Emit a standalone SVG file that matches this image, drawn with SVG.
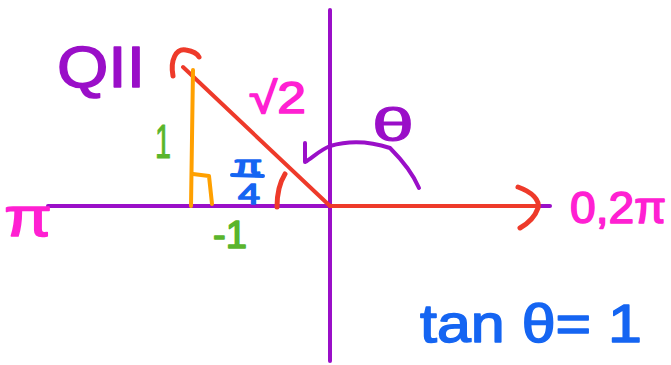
<svg xmlns="http://www.w3.org/2000/svg" width="671" height="365" viewBox="0 0 671 365">
<style>
.s{fill:none;stroke-linecap:round;stroke-linejoin:round}
.p{stroke:#9a0fc8}
.r{stroke:#ee3a2a}
.t{font-family:"Liberation Sans",Arial,sans-serif;stroke-linejoin:round}
</style>
<rect width="671" height="365" fill="#fff"/>
<g id="axes">
<line class="s p" x1="330" y1="10" x2="330" y2="361" stroke-width="4"/>
<line class="s p" x1="48" y1="206" x2="550" y2="206" stroke-width="4"/>
</g>
<g id="connectors">
<line class="s r" x1="183" y1="67" x2="330" y2="206" stroke-width="4"/>
<line class="s r" x1="330" y1="206" x2="536" y2="206" stroke-width="4"/>
<path class="s r" d="M173,76 C170,60 176,48 186,50 C192,51 197,53 199,57" stroke-width="5"/>
<path class="s r" d="M518,187 C532,192 540,200 538,208 C535,217 527,224 520,228" stroke-width="5"/>
<path class="s r" d="M285,174 C280,182 277,195 277,207" stroke-width="5"/>
<line class="s" stroke="#ffa000" x1="193" y1="70" x2="191" y2="206" stroke-width="4"/>
<path class="s" stroke="#ffa000" d="M193,174 L209,176 L212,204" stroke-width="4"/>
<path class="s p" d="M305,143 L305,162 C312,158 320,150 330,146 C350,140 372,142 390,148 C402,160 413,174 419,188" stroke-width="4"/>
<line class="s" stroke="#1565f2" x1="232" y1="175" x2="263" y2="176" stroke-width="4"/>
</g>
<g id="labels">
<text class="t" x="57" y="87" font-size="58" fill="#9a0fc8" stroke="#9a0fc8" stroke-width="1.5" textLength="88" lengthAdjust="spacingAndGlyphs">QII</text>
<text class="t" x="249" y="113" font-size="44" fill="#ff20d2" stroke="#ff20d2" stroke-width="1.5" textLength="57" lengthAdjust="spacingAndGlyphs">√2</text>
<text class="t" x="372" y="141" font-size="46" fill="#9a0fc8" stroke="#9a0fc8" stroke-width="1" textLength="42" lengthAdjust="spacingAndGlyphs">θ</text>
<text class="t" x="4" y="236" font-size="56" fill="#ff20d2" stroke="#ff20d2" stroke-width="1.5" textLength="48" lengthAdjust="spacingAndGlyphs">π</text>
<text class="t" x="570" y="223" font-size="44" fill="#ff20d2" stroke="#ff20d2" stroke-width="1.5" textLength="96" lengthAdjust="spacingAndGlyphs">0,2π</text>
<text class="t" x="155" y="158" font-size="48" fill="#5ab52c" stroke="#5ab52c" stroke-width="1" textLength="16" lengthAdjust="spacingAndGlyphs">1</text>
<text class="t" x="213" y="248" font-size="38" fill="#5ab52c" stroke="#5ab52c" stroke-width="1.5" textLength="34" lengthAdjust="spacingAndGlyphs">-1</text>
<text class="t" x="234" y="174" font-size="26" fill="#1565f2" stroke="#1565f2" stroke-width="1.5" textLength="28" lengthAdjust="spacingAndGlyphs">π</text>
<text class="t" x="238" y="204" font-size="30" fill="#1565f2" stroke="#1565f2" stroke-width="1.5" textLength="22" lengthAdjust="spacingAndGlyphs">4</text>
<text class="t" x="420" y="342" font-size="54" fill="#1565f2" stroke="#1565f2" stroke-width="1.5" textLength="222" lengthAdjust="spacingAndGlyphs">tan θ= 1</text>
</g>
</svg>
